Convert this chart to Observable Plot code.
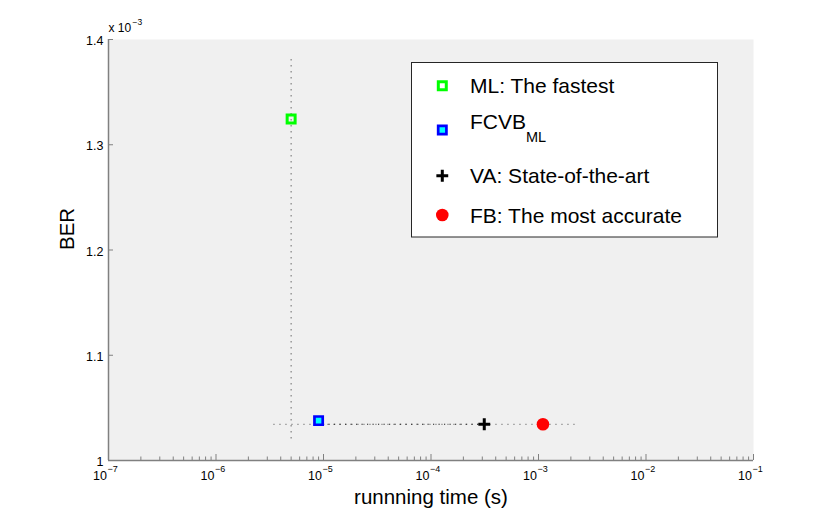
<!DOCTYPE html>
<html>
<head>
<meta charset="utf-8">
<script src="https://cdn.jsdelivr.net/npm/d3@7"></script>
<script src="https://cdn.jsdelivr.net/npm/@observablehq/plot@0.6"></script>
<style>
  body { margin: 0; background: #ffffff; }
  #chart { width: 830px; height: 518px; }
</style>
</head>
<body>
<div id="chart"></div>
<script>
// ---- data (BER in units of 1e-3) ----
const methods = ["ML: The fastest", "FCVB_ML", "VA: State-of-the-art", "FB: The most accurate"];
const runTimes = [5.0e-6, 9.0e-6, 3.13e-4, 1.10e-3];
const berValues = [1.3244, 1.0379, 1.0344, 1.0344];

const xTicks = [1e-7, 1e-6, 1e-5, 1e-4, 1e-3, 1e-2, 1e-1];
const xTickExponents = ["\u22127", "\u22126", "\u22125", "\u22124", "\u22123", "\u22122", "\u22121"];
const yTicks = [1.0, 1.1, 1.2, 1.3, 1.4];
const yTickLabels = ["1", "1.1", "1.2", "1.3", "1.4"];
const minorMultipliers = [2, 3, 4, 5, 6, 7, 8, 9];

// dotted guide lines
const vGuideX = [5.0e-6];
const vGuideY = [1.0205, 1.3845];
const hGuideX = [3.45e-6, 2.28e-3];
const hGuideDarkX = [1.0e-5, 3.0e-4];
const hGuideY = [1.0344];

const minorTicks = xTicks.slice(0, -1).flatMap(d => minorMultipliers.map(m => d * m));
const points = methods.map((m, i) => ({method: m, t: runTimes[i], ber: berValues[i]}));

const W = 830, H = 518, mL = 108, mR = 77, mT = 39, mB = 58;
const innerW = W - mL - mR, innerH = H - mT - mB;
const axisColor = "#808080";
const font = "'Liberation Sans', Arial, Helvetica, sans-serif";
const plusR = 3.9;

const svg = Plot.plot({
  width: W, height: H,
  marginLeft: mL, marginRight: mR, marginTop: mT, marginBottom: mB,
  style: {fontFamily: font, background: "#ffffff", color: "#000"},
  x: {type: "log", domain: [xTicks[0], xTicks[xTicks.length - 1]], axis: null},
  y: {domain: [yTicks[0], yTicks[yTicks.length - 1]], axis: null},
  marks: [
    Plot.frame({fill: "#f0f0f0", stroke: "none"}),
    // guide lines
    Plot.ruleX(vGuideX, {y1: vGuideY[0], y2: vGuideY[1], stroke: "#8a8a8a", strokeWidth: 1.3, strokeDasharray: "1.3,4.7"}),
    Plot.ruleY(hGuideY, {x1: hGuideX[0], x2: hGuideX[1], stroke: "#8a8a8a", strokeWidth: 1.3, strokeDasharray: "1.3,4.7"}),
    Plot.ruleY(hGuideY, {x1: hGuideDarkX[0], x2: hGuideDarkX[1], stroke: "#222", strokeWidth: 1.1, strokeDasharray: "1.2,4.3"}),
    // axis lines
    Plot.ruleX([xTicks[0]], {stroke: axisColor, strokeWidth: 1.5}),
    Plot.ruleY([yTicks[0]], {stroke: axisColor, strokeWidth: 1.5}),
    // ticks (inward)
    Plot.ruleX(xTicks, {x: d => d, insetTop: innerH - 6, stroke: axisColor}),
    Plot.ruleX(minorTicks, {x: d => d, insetTop: innerH - 3.5, stroke: axisColor}),
    Plot.ruleY(yTicks, {y: d => d, insetRight: innerW - 5, stroke: axisColor}),
    // x tick labels
    Plot.text(xTicks, {x: d => d, frameAnchor: "bottom", text: () => "10", textAnchor: "end", dx: -1.5, dy: 15.5, lineAnchor: "middle", fontSize: 12.5, fill: "#000"}),
    Plot.text(xTicks, {x: d => d, frameAnchor: "bottom", text: (d, i) => xTickExponents[i], textAnchor: "start", dx: -1, dy: 8.5, lineAnchor: "middle", fontSize: 9, fill: "#000"}),
    // y tick labels
    Plot.text(yTicks, {y: d => d, frameAnchor: "left", text: (d, i) => yTickLabels[i], textAnchor: "end", dx: -5, dy: 1.5, lineAnchor: "middle", fontSize: 12.5, fill: "#000"}),
    // exponent multiplier
    Plot.text(["x 10"], {frameAnchor: "top-left", text: d => d, textAnchor: "start", dx: 0, dy: -11, lineAnchor: "middle", fontSize: 12, fill: "#000"}),
    Plot.text(["\u22123"], {frameAnchor: "top-left", text: d => d, textAnchor: "start", dx: 24, dy: -17.5, lineAnchor: "middle", fontSize: 8.5, fill: "#000"}),
    // axis labels
    Plot.text(["runnning time (s)"], {frameAnchor: "bottom", text: d => d, dy: 37, lineAnchor: "middle", fontSize: 20.5, fill: "#000"}),
    Plot.text(["BER"], {frameAnchor: "left", text: d => d, dx: -41, rotate: -90, lineAnchor: "middle", fontSize: 20.5, fill: "#000"}),
    // data points
    Plot.dot(points.filter((d, i) => i === 0), {x: "t", y: "ber", symbol: "square", r: 4.5, stroke: "#00ff00", strokeWidth: 3, fill: "none"}),
    Plot.dot(points.filter((d, i) => i === 1), {x: "t", y: "ber", symbol: "square", r: 4.65, stroke: "#0000ff", strokeWidth: 2.7, fill: "#00ffff"}),
    Plot.dot(points.filter((d, i) => i === 2), {x: "t", y: "ber", symbol: "plus", r: plusR, stroke: "#000000", strokeWidth: 3}),
    Plot.dot(points.filter((d, i) => i === 3), {x: "t", y: "ber", symbol: "circle", r: 6.3, fill: "#ff0000", stroke: "none"})
  ]
});

// ---- legend (inside the axes, top right) ----
const lg = d3.select(svg).append("g").attr("font-family", font).attr("text-anchor", "start");
lg.append("rect").attr("x", 411.5).attr("y", 62.5).attr("width", 306).attr("height", 174.5)
  .attr("fill", "#ffffff").attr("stroke", "#262626").attr("stroke-width", 1);
const legendRows = [85.7, 130, 175.7, 215];
const symX = 442.3, textX = 470;
lg.append("path").attr("d", d3.symbol(d3.symbolSquare, Math.PI * 4.5 * 4.5)()).attr("transform", `translate(${symX},${legendRows[0]})`)
  .attr("fill", "none").attr("stroke", "#00ff00").attr("stroke-width", 3);
lg.append("path").attr("d", d3.symbol(d3.symbolSquare, Math.PI * 4.65 * 4.65)()).attr("transform", `translate(${symX},${legendRows[1]})`)
  .attr("fill", "#00ffff").attr("stroke", "#0000ff").attr("stroke-width", 2.7);
lg.append("path").attr("d", d3.symbol(d3.symbolPlus, Math.PI * plusR * plusR)()).attr("transform", `translate(${symX},${legendRows[2]})`)
  .attr("fill", "none").attr("stroke", "#000").attr("stroke-width", 3);
lg.append("circle").attr("cx", symX).attr("cy", legendRows[3]).attr("r", 6.3).attr("fill", "#ff0000");

methods.forEach((m, i) => {
  const t = lg.append("text").attr("x", textX).attr("y", legendRows[i]).attr("font-size", 21)
    .attr("text-anchor", "start").attr("dy", "0.36em").attr("fill", "#000");
  if (m.includes("_")) {
    const [base, sub] = m.split("_");
    t.attr("y", legendRows[i] - 8.3);
    t.append("tspan").text(base);
    t.append("tspan").attr("font-size", 14.5).attr("dy", 12.5).text(sub);
  } else {
    t.text(m);
  }
});

document.getElementById("chart").appendChild(svg);
</script>
</body>
</html>
